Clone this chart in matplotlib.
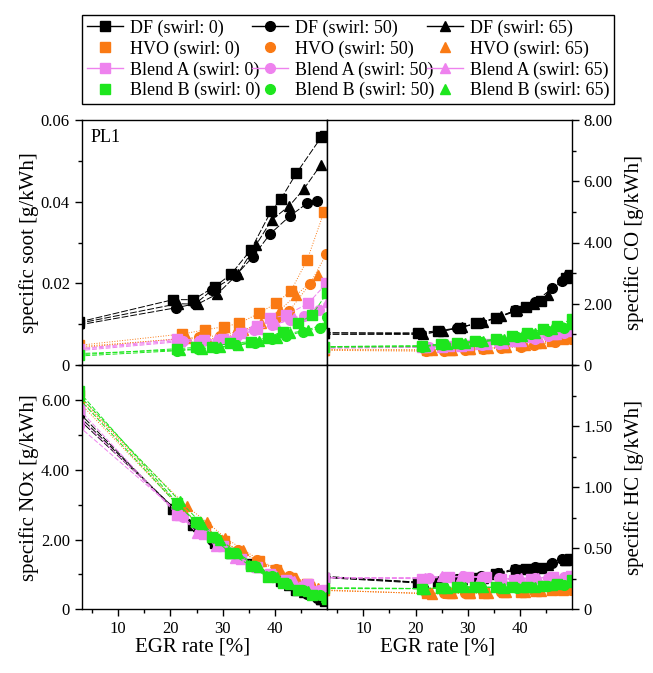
import matplotlib
matplotlib.use('Agg')
import matplotlib.pyplot as plt
from matplotlib.lines import Line2D
from matplotlib.ticker import MultipleLocator, FixedLocator, FuncFormatter

plt.rcParams['font.family'] = ['Liberation Serif', 'DejaVu Serif']

# ---- data (EGR rate [%] and specific emissions [g/kWh]) ----
# DF
egr_df_0 = [2.4, 20.5, 24.4, 28.5, 31.6, 35.4, 39.3, 41.2, 44.1, 48.9, 49.6]
soot_df_0 = [0.0105, 0.0160, 0.0160, 0.0192, 0.0222, 0.0282, 0.0377, 0.0407, 0.0469, 0.0558, 0.0560]
co_df_0 = [1.05, 1.05, 1.12, 1.22, 1.36, 1.52, 1.76, 1.90, 2.10, 2.85, 2.95]
nox_df_0 = [5.65, 2.88, 2.41, 1.90, 1.60, 1.30, 0.95, 0.80, 0.55, 0.30, 0.25]
hc_df_0 = [0.26, 0.215, 0.225, 0.24, 0.255, 0.29, 0.32, 0.33, 0.34, 0.40, 0.41]

egr_df_50 = [2.4, 21.0, 24.8, 28.0, 32.5, 35.8, 39.1, 42.9, 46.2, 48.1]
soot_df_50 = [0.0098, 0.0140, 0.0150, 0.0184, 0.0219, 0.0265, 0.0321, 0.0365, 0.0396, 0.0402]
co_df_50 = [1.00, 1.00, 1.10, 1.20, 1.38, 1.55, 1.78, 2.05, 2.50, 2.75]
nox_df_50 = [5.55, 2.85, 2.45, 2.00, 1.55, 1.30, 1.00, 0.72, 0.45, 0.33]
hc_df_50 = [0.265, 0.22, 0.23, 0.245, 0.27, 0.30, 0.33, 0.35, 0.38, 0.41]

egr_df_65 = [2.4, 21.4, 25.2, 29.0, 32.9, 36.4, 39.4, 42.8, 45.5, 48.8]
soot_df_65 = [0.0102, 0.0150, 0.0149, 0.0174, 0.0223, 0.0294, 0.0355, 0.0390, 0.0430, 0.0490]
co_df_65 = [1.05, 1.02, 1.10, 1.25, 1.40, 1.60, 1.80, 2.00, 2.30, 2.90]
nox_df_65 = [5.45, 2.80, 2.40, 1.95, 1.55, 1.25, 0.98, 0.70, 0.50, 0.30]
hc_df_65 = [0.27, 0.22, 0.228, 0.245, 0.26, 0.30, 0.32, 0.33, 0.36, 0.40]

# HVO
egr_hvo_0 = [2.4, 22.3, 26.6, 30.3, 33.2, 37.0, 40.2, 43.1, 46.2, 49.4]
soot_hvo_0 = [0.0048, 0.0076, 0.0086, 0.0094, 0.0102, 0.0127, 0.0151, 0.0182, 0.0257, 0.0374]
co_hvo_0 = [0.50, 0.50, 0.50, 0.52, 0.55, 0.60, 0.65, 0.72, 0.80, 0.90]
nox_hvo_0 = [6.15, 2.85, 2.35, 1.95, 1.65, 1.38, 1.12, 0.90, 0.72, 0.52]
hc_hvo_0 = [0.155, 0.13, 0.13, 0.135, 0.135, 0.14, 0.14, 0.15, 0.155, 0.165]

egr_hvo_50 = [2.4, 22.0, 25.5, 29.5, 33.0, 36.5, 40.3, 42.8, 46.7, 49.9]
soot_hvo_50 = [0.0042, 0.0065, 0.0068, 0.0072, 0.0082, 0.0095, 0.0114, 0.0133, 0.0198, 0.0272]
co_hvo_50 = [0.48, 0.45, 0.47, 0.50, 0.52, 0.55, 0.60, 0.66, 0.75, 0.85]
nox_hvo_50 = [5.95, 2.90, 2.45, 2.00, 1.70, 1.40, 1.15, 0.95, 0.70, 0.55]
hc_hvo_50 = [0.155, 0.13, 0.135, 0.135, 0.14, 0.14, 0.145, 0.15, 0.155, 0.16]

egr_hvo_65 = [2.4, 23.1, 27.0, 30.5, 34.0, 37.4, 41.0, 44.1, 48.3]
soot_hvo_65 = [0.0045, 0.0065, 0.0063, 0.0068, 0.0085, 0.0104, 0.0135, 0.0171, 0.0220]
co_hvo_65 = [0.50, 0.48, 0.50, 0.52, 0.55, 0.60, 0.65, 0.72, 0.85]
nox_hvo_65 = [6.05, 2.95, 2.50, 2.05, 1.70, 1.38, 1.12, 0.90, 0.60]
hc_hvo_65 = [0.16, 0.125, 0.13, 0.13, 0.135, 0.14, 0.145, 0.15, 0.16]

# Blend A
egr_a_0 = [2.4, 21.3, 26.4, 30.0, 33.5, 36.5, 39.0, 42.2, 46.4, 49.9]
soot_a_0 = [0.0040, 0.0063, 0.0061, 0.0063, 0.0078, 0.0095, 0.0114, 0.0122, 0.0151, 0.0200]
co_a_0 = [0.58, 0.60, 0.62, 0.65, 0.70, 0.75, 0.80, 0.90, 1.00, 1.15]
nox_a_0 = [5.75, 2.70, 2.15, 1.80, 1.45, 1.20, 1.00, 0.85, 0.72, 0.55]
hc_a_0 = [0.26, 0.25, 0.265, 0.265, 0.265, 0.25, 0.24, 0.25, 0.265, 0.27]

egr_a_50 = [2.4, 22.5, 25.5, 29.2, 32.8, 36.0, 39.5, 43.0, 45.5, 48.5]
soot_a_50 = [0.0035, 0.0058, 0.0058, 0.0062, 0.0070, 0.0085, 0.0098, 0.0110, 0.0120, 0.0135]
co_a_50 = [0.55, 0.58, 0.60, 0.62, 0.66, 0.70, 0.78, 0.85, 0.95, 1.05]
nox_a_50 = [5.25, 2.65, 2.20, 1.85, 1.50, 1.25, 1.00, 0.80, 0.70, 0.55]
hc_a_50 = [0.255, 0.26, 0.265, 0.27, 0.265, 0.255, 0.25, 0.255, 0.26, 0.265]

egr_a_65 = [2.4, 21.8, 25.0, 28.8, 32.4, 36.8, 40.2, 43.6, 47.0, 50.0]
soot_a_65 = [0.0038, 0.0060, 0.0058, 0.0063, 0.0072, 0.0088, 0.0100, 0.0115, 0.0130, 0.0155]
co_a_65 = [0.56, 0.58, 0.60, 0.63, 0.68, 0.72, 0.80, 0.90, 1.00, 1.12]
nox_a_65 = [5.50, 2.70, 2.20, 1.80, 1.48, 1.20, 0.95, 0.82, 0.68, 0.52]
hc_a_65 = [0.26, 0.255, 0.27, 0.27, 0.26, 0.25, 0.255, 0.26, 0.265, 0.27]

# Blend B
egr_b_0 = [2.4, 21.3, 24.9, 28.0, 31.5, 35.4, 38.6, 41.5, 44.4, 47.1, 50.0]
soot_b_0 = [0.0025, 0.0040, 0.0043, 0.0045, 0.0053, 0.0057, 0.0067, 0.0082, 0.0102, 0.0122, 0.0176]
co_b_0 = [0.60, 0.62, 0.69, 0.73, 0.78, 0.84, 0.94, 1.05, 1.16, 1.27, 1.50]
nox_b_0 = [6.25, 3.05, 2.50, 2.08, 1.60, 1.25, 0.92, 0.75, 0.56, 0.42, 0.30]
hc_b_0 = [0.175, 0.17, 0.178, 0.184, 0.184, 0.179, 0.179, 0.184, 0.19, 0.206, 0.24]

egr_b_50 = [2.4, 21.3, 25.3, 28.8, 32.6, 36.2, 39.5, 42.2, 45.4, 48.6, 50.0]
soot_b_50 = [0.0022, 0.0035, 0.0038, 0.0042, 0.0048, 0.0055, 0.0063, 0.0071, 0.0082, 0.0090, 0.0118]
co_b_50 = [0.58, 0.60, 0.65, 0.70, 0.75, 0.82, 0.90, 1.00, 1.10, 1.20, 1.35]
nox_b_50 = [6.05, 3.00, 2.45, 2.05, 1.60, 1.25, 0.95, 0.75, 0.55, 0.40, 0.32]
hc_b_50 = [0.17, 0.168, 0.175, 0.18, 0.182, 0.178, 0.178, 0.182, 0.188, 0.20, 0.22]

egr_b_65 = [2.4, 21.8, 26.0, 29.5, 33.0, 37.0, 40.5, 43.0, 46.3, 49.8]
soot_b_65 = [0.0028, 0.0037, 0.0040, 0.0044, 0.0050, 0.0058, 0.0067, 0.0078, 0.0086, 0.0102]
co_b_65 = [0.60, 0.63, 0.68, 0.72, 0.78, 0.85, 0.95, 1.05, 1.18, 1.35]
nox_b_65 = [6.15, 3.10, 2.45, 2.00, 1.60, 1.20, 0.92, 0.72, 0.52, 0.35]
hc_b_65 = [0.175, 0.17, 0.176, 0.182, 0.18, 0.178, 0.182, 0.186, 0.195, 0.22]

fuels = ['DF', 'HVO', 'Blend A', 'Blend B']
swirls = [0, 50, 65]
colors = {'DF': 'black', 'HVO': '#FA7A14', 'Blend A': '#EE82EE', 'Blend B': '#1EE61E'}
markers = {0: 's', 50: 'o', 65: '^'}
styles = {'DF': (0, (7, 2)), 'HVO': ':', 'Blend A': (0, (5, 2)), 'Blend B': (0, (5, 2))}

series = [
    ('DF', 0, egr_df_0, soot_df_0, co_df_0, nox_df_0, hc_df_0),
    ('DF', 50, egr_df_50, soot_df_50, co_df_50, nox_df_50, hc_df_50),
    ('DF', 65, egr_df_65, soot_df_65, co_df_65, nox_df_65, hc_df_65),
    ('HVO', 0, egr_hvo_0, soot_hvo_0, co_hvo_0, nox_hvo_0, hc_hvo_0),
    ('HVO', 50, egr_hvo_50, soot_hvo_50, co_hvo_50, nox_hvo_50, hc_hvo_50),
    ('HVO', 65, egr_hvo_65, soot_hvo_65, co_hvo_65, nox_hvo_65, hc_hvo_65),
    ('Blend A', 0, egr_a_0, soot_a_0, co_a_0, nox_a_0, hc_a_0),
    ('Blend A', 50, egr_a_50, soot_a_50, co_a_50, nox_a_50, hc_a_50),
    ('Blend A', 65, egr_a_65, soot_a_65, co_a_65, nox_a_65, hc_a_65),
    ('Blend B', 0, egr_b_0, soot_b_0, co_b_0, nox_b_0, hc_b_0),
    ('Blend B', 50, egr_b_50, soot_b_50, co_b_50, nox_b_50, hc_b_50),
    ('Blend B', 65, egr_b_65, soot_b_65, co_b_65, nox_b_65, hc_b_65),
]

W, H = 653, 673
fig = plt.figure(figsize=(W / 100, H / 100), dpi=100)

x0, xm, x1 = 81.7, 327.0, 571.7
ytop, ymid, ybot = 120.0, 365.0, 609.3


def box(l, r, t, b):
    return [l / W, 1 - b / H, (r - l) / W, (b - t) / H]


ax_soot = fig.add_axes(box(x0, xm, ytop, ymid))
ax_co = fig.add_axes(box(xm, x1, ytop, ymid))
ax_nox = fig.add_axes(box(x0, xm, ymid, ybot))
ax_hc = fig.add_axes(box(xm, x1, ymid, ybot))

fmt = FuncFormatter(lambda v, p: '0' if abs(v) < 1e-9 else f'{v:.2f}')

panels = [
    (ax_soot, 3, (0, 0.06), [0, 0.02, 0.04, 0.06], 0.01, 'specific soot [g/kWh]', 'left', False),
    (ax_co, 4, (0, 8), [0, 2, 4, 6, 8], 1, 'specific CO [g/kWh]', 'right', False),
    (ax_nox, 5, (0, 7), [0, 2, 4, 6], 1, 'specific NOx [g/kWh]', 'left', True),
    (ax_hc, 6, (0, 2), [0, 0.5, 1.0, 1.5], 0.25, 'specific HC [g/kWh]', 'right', True),
]

for ax, idx, ylim, yt, ymin, ylab, side, bottom in panels:
    for fuel, sw, egr, *vals in series:
        ax.plot(egr, vals[idx - 3], color=colors[fuel], ls=styles[fuel], lw=0.7,
                marker=markers[sw], ms=7, mec=colors[fuel], mfc=colors[fuel])
    ax.set_xlim(3, 50)
    ax.set_ylim(*ylim)
    ax.yaxis.set_major_locator(FixedLocator(yt))
    ax.yaxis.set_minor_locator(MultipleLocator(ymin))
    ax.yaxis.set_major_formatter(fmt)
    ax.xaxis.set_major_locator(FixedLocator([10, 20, 30, 40]))
    ax.xaxis.set_minor_locator(FixedLocator([5, 15, 25, 35, 45]))
    for s in ax.spines.values():
        s.set_linewidth(1.0)
    ax.tick_params(which='both', direction='out', labelsize=12, width=1.0,
                   left=(side == 'left'), right=(side == 'right'),
                   labelleft=(side == 'left'), labelright=(side == 'right'),
                   bottom=bottom, labelbottom=bottom, top=False)
    ax.tick_params(which='major', length=5)
    ax.tick_params(which='minor', length=3)
    ax.set_ylabel(ylab, fontsize=15)
    if side == 'right':
        ax.yaxis.set_label_position('right')
        ax.yaxis.set_label_coords(1.215, 0.5)
    else:
        ax.yaxis.set_label_coords(-0.175, 0.5)
    if bottom:
        ax.set_xlabel('EGR rate [%]', fontsize=15)
        ax.xaxis.set_label_coords(0.45, -0.115)

ax_soot.text(0.035, 0.965, 'PL1', transform=ax_soot.transAxes, fontsize=13, va='top', ha='left')

# legend, filled column by column (swirl 0, 50, 65)
handles, labels = [], []
for sw in swirls:
    for fuel in fuels:
        ls = '-' if fuel in ('DF', 'Blend A') else 'none'
        handles.append(Line2D([], [], color=colors[fuel], ls=ls, lw=1.0, marker=markers[sw], ms=7))
        labels.append(f'{fuel} (swirl: {sw})')

leg = fig.legend(handles, labels, ncol=3, loc='lower left', mode='expand',
                 bbox_to_anchor=(82 / W, 1 - 104 / H, (614 - 82) / W, 100 / H),
                 fontsize=13, frameon=True, fancybox=False, edgecolor='black',
                 framealpha=1, handlelength=2.0, handletextpad=0.4, borderaxespad=0,
                 labelspacing=0.2, borderpad=0.25, columnspacing=0.2)
leg.get_frame().set_linewidth(1.0)

fig.savefig('out.png', dpi=100)
